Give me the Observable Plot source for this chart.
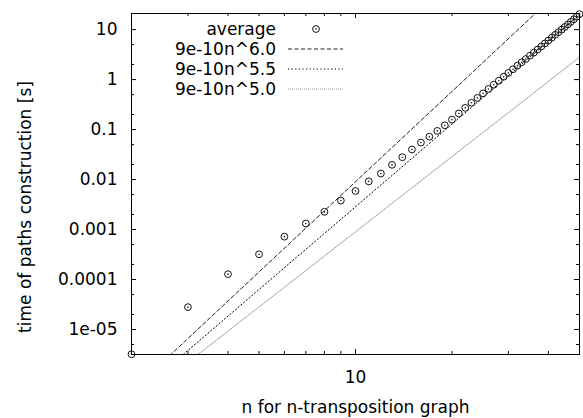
<!DOCTYPE html>
<html><head><meta charset="utf-8">
<script src="https://cdn.jsdelivr.net/npm/d3@7"></script>
<script src="https://cdn.jsdelivr.net/npm/@observablehq/plot@0.6"></script>
<style>body{margin:0;background:#fff} svg text{font-family:"DejaVu Sans",sans-serif}</style>
</head><body><div id="chart"></div>
<script>
// measured averages
const nValues = [2,3,4,5,6,7,8,9,10,11,12,13,14,15,16,17,18,19,20,21,22,23,24,25,26,27,28,29,30,31,32,33,34,35,36,37,38,39,40,41,42,43,44,45,46,47,48,49,50];
const avgTime = [3.2e-6,2.8e-5,1.28e-4,3.2e-4,7.2e-4,1.32e-3,2.26e-3,3.8e-3,5.9e-3,9.2e-3,0.0132,0.0197,0.028,0.040,0.055,0.072,0.094,0.122,0.158,0.21,0.272,0.343,0.43,0.53,0.65,0.79,0.95,1.14,1.36,1.61,1.90,2.22,2.58,3.0,3.46,3.99,4.6,5.3,6.05,6.9,7.85,8.9,10.0,11.3,12.7,14.3,16.1,18.1,20.4];
// fitted power-law lines (end points read at n = 2 and n = 50)
const fitLabels = ["9e-10n^6.0", "9e-10n^5.5", "9e-10n^5.0"];
const fitN = [2, 50];
const fit60 = [5.8e-7, 141];
const fit55 = [4.1e-7, 19.9];
const fit50 = [2.9e-7, 2.8];
// axis ticks
const xMajorTicks = [10];
const xMinorTicks = [3,4,5,6,7,8,9,20,30,40];
const yMajorTicks = [1e-5,1e-4,1e-3,1e-2,0.1,1,10];
const yTickLabels = ["1e-05","0.0001","0.001","0.01","0.1","1","10"];
const yMinorTicks = [5e-6,2e-5,5e-5,2e-4,5e-4,2e-3,5e-3,0.02,0.05,0.2,0.5,2,5];
const xLabel = "n for n-transposition graph";
const yLabel = "time of paths construction [s]";
const avgLabel = "average";

const avg = nValues.map((n, i) => ({n, t: avgTime[i]}));
const fits = [fit60, fit55, fit50].map((vals, k) => fitN.map((n, i) => ({n, t: vals[i], s: fitLabels[k]})));
const fitStyles = [
  {stroke: "#222", strokeDasharray: "4,2.5", strokeWidth: 1},
  {stroke: "#000", strokeDasharray: "1.2,2.4", strokeWidth: 1},
  {stroke: "#999", strokeDasharray: "1,1", strokeWidth: 1}
];

const W = 583, H = 418, mL = 131, mR = 4, mT = 13, mB = 64;
const fw = W - mL - mR, fh = H - mT - mB;
const major = 5, minor = 3;

const chart = Plot.plot({
  width: W, height: H,
  marginLeft: mL, marginRight: mR, marginTop: mT, marginBottom: mB,
  style: {fontFamily: "DejaVu Sans", fontSize: "17px", color: "black", background: "white", overflow: "visible"},
  x: {type: "log", domain: [2, 50]},
  y: {type: "log", domain: [3.16e-6, 21]},
  marks: [
    // inward ticks on all four sides
    Plot.tickX(xMajorTicks, {x: d => d, insetTop: fh - major, stroke: "black"}),
    Plot.tickX(xMajorTicks, {x: d => d, insetBottom: fh - major, stroke: "black"}),
    Plot.tickX(xMinorTicks, {x: d => d, insetTop: fh - minor, stroke: "black"}),
    Plot.tickX(xMinorTicks, {x: d => d, insetBottom: fh - minor, stroke: "black"}),
    Plot.tickY(yMajorTicks, {y: d => d, insetRight: fw - major, stroke: "black"}),
    Plot.tickY(yMajorTicks, {y: d => d, insetLeft: fw - major, stroke: "black"}),
    Plot.tickY(yMinorTicks, {y: d => d, insetRight: fw - minor, stroke: "black"}),
    Plot.tickY(yMinorTicks, {y: d => d, insetLeft: fw - minor, stroke: "black"}),
    Plot.axisX(xMajorTicks, {tickSize: 0, tickPadding: 16, label: null, tickFormat: d => String(d)}),
    Plot.axisY(yMajorTicks, {tickSize: 0, tickPadding: 14, label: null, tickFormat: d => yTickLabels[yMajorTicks.indexOf(d)]}),
    ...fits.map((f, k) => Plot.line(f, {x: "n", y: "t", clip: true, ...fitStyles[k]})),
    Plot.dot(avg, {x: "n", y: "t", r: 3.4, stroke: "#111", strokeWidth: 1, fill: "none"}),
    Plot.dot(avg, {x: "n", y: "t", r: 0.8, fill: "#111", stroke: "none"}),
    Plot.frame({stroke: "black", strokeWidth: 1}),
    Plot.text([xLabel], {text: d => d, frameAnchor: "bottom", textAnchor: "middle", dy: 53, lineAnchor: "middle", fill: "black"}),
    Plot.text([yLabel], {text: d => d, frameAnchor: "left", textAnchor: "middle", rotate: -90, dx: -106, dy: 23, lineAnchor: "middle", fill: "black"})
  ]
});
document.getElementById("chart").appendChild(chart);

// key (legend) inside the plot area
const svg = d3.select(chart);
const key = svg.append("g").attr("font-size", 17).attr("font-family", "DejaVu Sans");
const keyTextX = mL + 145, keyY0 = mT + 16, keyStep = 20, sampleX1 = mL + 157, sampleX2 = mL + 212, symX = mL + 185;
[avgLabel, ...fitLabels].forEach((lab, i) => {
  key.append("text").attr("x", keyTextX).attr("y", keyY0 + i * keyStep).attr("dy", "0.35em")
    .attr("text-anchor", "end").attr("fill", "black").text(lab);
});
key.append("circle").attr("cx", symX).attr("cy", keyY0).attr("r", 3.4).attr("fill", "none").attr("stroke", "#111");
key.append("circle").attr("cx", symX).attr("cy", keyY0).attr("r", 0.8).attr("fill", "#111");
fitStyles.forEach((st, k) => {
  key.append("line").attr("x1", sampleX1).attr("x2", sampleX2)
    .attr("y1", keyY0 + (k + 1) * keyStep).attr("y2", keyY0 + (k + 1) * keyStep)
    .attr("stroke", st.stroke).attr("stroke-dasharray", st.strokeDasharray).attr("stroke-width", 1);
});
</script>
</body></html>
